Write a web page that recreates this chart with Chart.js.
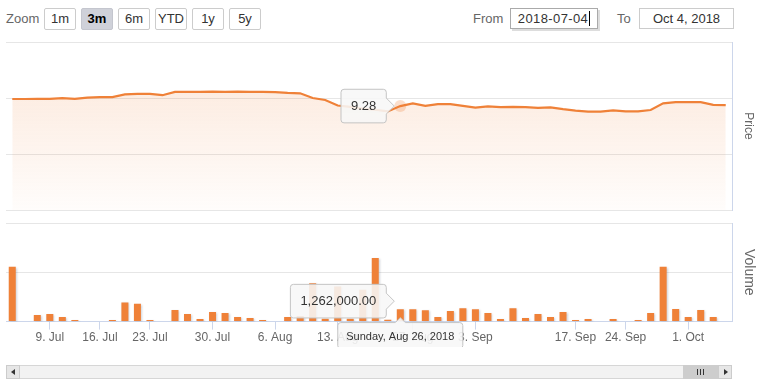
<!DOCTYPE html>
<html>
<head>
<meta charset="utf-8">
<script src="https://cdn.jsdelivr.net/npm/chart.js@4.4.1/dist/chart.umd.min.js"></script>
<style>
  body { margin: 0; background: #fff; font-family: 'Liberation Sans', Arial, sans-serif; }
  #wrap { position: relative; width: 762px; height: 384px; overflow: hidden; }
  .lbl { position: absolute; top: 11px; font-size: 13px; color: #666; }
  .btn { position: absolute; top: 8px; width: 30px; height: 20px; border: 1px solid #ccc; border-radius: 2px;
         background: #fff; color: #333; font-size: 13px; text-align: center; line-height: 20px; }
  .btn.sel { background: #cfd1d9; font-weight: bold; color: #000; border-color: #c4c6ce; }
  .inp { position: absolute; top: 8px; height: 19px; border: 1px solid #ccc; font-size: 13px; color: #333;
         line-height: 19px; text-align: center; background: #fff; }
  #from { left: 510px; width: 86px; border-color: #aaa; box-shadow: 2px 2px 0 #ddd; letter-spacing: 0.4px; }
  #to { left: 639px; width: 93px; }
  .cursor { display: inline-block; width: 1px; height: 15px; background: #000; vertical-align: -3px; margin-left: 1px; }
  #pc { position: absolute; left: 0; top: 0; width: 762px; height: 214px; }
  #vc { position: absolute; left: 0; top: 215px; width: 762px; height: 132px; }
  .sb { position: absolute; top: 365px; height: 14px; box-sizing: border-box; }
  #track { left: 6px; width: 726px; background: #f2f2f2; border: 1px solid #d6d6d6; }
  #thumb { left: 683px; width: 35px; background: #cdcdcd; }
  .sbtn { width: 14px; background: #e6e6e6; border: 1px solid #ccc; }
  .grip { position: absolute; top: 369px; width: 1px; height: 6px; background: #333; }
  .arr { position: absolute; top: 369px; width: 0; height: 0; border-top: 3px solid transparent; border-bottom: 3px solid transparent; }
</style>
</head>
<body>
<div id="wrap">
  <span class="lbl" style="left:6px">Zoom</span>
  <div class="btn" style="left:44px">1m</div>
  <div class="btn sel" style="left:81px">3m</div>
  <div class="btn" style="left:118px">6m</div>
  <div class="btn" style="left:155px">YTD</div>
  <div class="btn" style="left:192px">1y</div>
  <div class="btn" style="left:229px">5y</div>
  <span class="lbl" style="left:473px">From</span>
  <div class="inp" id="from">2018-07-04<span class="cursor"></span></div>
  <span class="lbl" style="left:617px">To</span>
  <div class="inp" id="to">Oct 4, 2018</div>

  <div id="pc"><canvas id="price"></canvas></div>
  <div id="vc"><canvas id="volume"></canvas></div>

  <div class="sb" id="track"></div>
  <div class="sb sbtn" style="left:6px"></div>
  <div class="arr" style="left:11px;border-right:4px solid #333"></div>
  <div class="sb" id="thumb"></div>
  <div class="grip" style="left:697px"></div>
  <div class="grip" style="left:700px"></div>
  <div class="grip" style="left:703px"></div>
  <div class="sb sbtn" style="left:718px"></div>
  <div class="arr" style="left:724px;border-left:4px solid #333"></div>
</div>
<script>
const dates = [
  '2018-07-04','2018-07-05','2018-07-06','2018-07-09','2018-07-10','2018-07-11','2018-07-12',
  '2018-07-16','2018-07-17','2018-07-18','2018-07-19','2018-07-23','2018-07-24','2018-07-25',
  '2018-07-26','2018-07-27','2018-07-30','2018-07-31','2018-08-01','2018-08-02','2018-08-03',
  '2018-08-06','2018-08-07','2018-08-08','2018-08-09','2018-08-10','2018-08-13','2018-08-14',
  '2018-08-15','2018-08-16','2018-08-17','2018-08-26','2018-08-27','2018-08-28','2018-08-29',
  '2018-08-30','2018-08-31','2018-09-03','2018-09-04','2018-09-05','2018-09-06','2018-09-07',
  '2018-09-11','2018-09-12','2018-09-13','2018-09-17','2018-09-18','2018-09-19','2018-09-20',
  '2018-09-24','2018-09-25','2018-09-26','2018-09-27','2018-09-28','2018-10-01','2018-10-02',
  '2018-10-03','2018-10-04'
];
const price = [
  9.91, 9.91, 9.92, 9.92, 9.99, 9.93, 10.04,
  10.08, 10.08, 10.32, 10.36, 10.36, 10.25, 10.54,
  10.54, 10.55, 10.57, 10.55, 10.57, 10.55, 10.55,
  10.53, 10.46, 10.42, 10.0, 9.82, 9.33, 9.2,
  9.05, 8.95, 8.8, 9.28, 9.52, 9.3, 9.46,
  9.46, 9.3, 9.15, 9.26, 9.18, 9.2, 9.18,
  9.12, 9.17, 9.0, 8.88, 8.79, 8.79, 8.9,
  8.81, 8.81, 8.93, 9.52, 9.64, 9.64, 9.63,
  9.38, 9.36
];
const volume = [
  5570000, 0, 670000, 780000, 470000, 160000, 50000,
  50000, 160000, 1940000, 1800000, 160000, 0, 1180000,
  780000, 270000, 980000, 880000, 470000, 370000, 160000,
  50000, 470000, 570000, 3880000, 300000, 3570000, 300000,
  3220000, 6460000, 200000, 1262000, 1260000, 1150000, 470000,
  1080000, 1360000, 1260000, 880000, 270000, 1360000, 370000,
  780000, 470000, 980000, 160000, 270000, 0, 270000,
  0, 160000, 880000, 5570000, 1290000, 470000, 1180000,
  470000, 0
];
const tickDates = ['2018-07-09','2018-07-16','2018-07-23','2018-07-30','2018-08-06','2018-08-13',
  '2018-08-27','2018-09-03','2018-09-17','2018-09-24','2018-10-01'];
const tickLabels = ['9. Jul','16. Jul','23. Jul','30. Jul','6. Aug','13. Aug',
  '27. Aug','3. Sep','17. Sep','24. Sep','1. Oct'];
const hoverDate = '2018-08-26';

const orange = '#ef8138';
const family = "'Liberation Sans', Arial, sans-serif";
Chart.defaults.font.family = family;

const dayNames = ['Sunday','Monday','Tuesday','Wednesday','Thursday','Friday','Saturday'];
const monNames = ['Jan','Feb','Mar','Apr','May','Jun','Jul','Aug','Sep','Oct','Nov','Dec'];
function longDate(s) {
  const p = s.split('-').map(Number);
  const d = new Date(Date.UTC(p[0], p[1] - 1, p[2]));
  return dayNames[d.getUTCDay()] + ', ' + monNames[p[1] - 1] + ' ' + p[2] + ', ' + p[0];
}

function tipOpts(fmt, pos) {
  return {
    enabled: true, position: pos, xAlign: 'right', yAlign: 'center',
    backgroundColor: 'rgba(247,247,247,0.88)', borderColor: '#c4c4c4', borderWidth: 1,
    cornerRadius: 3, caretSize: 8, caretPadding: 6, padding: {x: 10, y: 9},
    displayColors: false, bodyColor: '#333', bodyFont: {size: 13},
    callbacks: { title: () => null, label: (c) => fmt(c.raw) }
  };
}

Chart.Tooltip.positioners.raised = function(items) {
  const p = Chart.Tooltip.positioners.average.call(this, items);
  return p ? {x: p.x, y: p.y - 8} : false;
};

const fillGrad = (ctx) => {
  const a = ctx.chart.chartArea;
  if (!a) return 'rgba(239,129,56,0.1)';
  const g = ctx.chart.ctx.createLinearGradient(0, a.top, 0, a.bottom);
  g.addColorStop(0, 'rgba(239,129,56,0.2)');
  g.addColorStop(1, 'rgba(239,129,56,0.02)');
  return g;
};

const barShadow = {
  id: 'barShadow',
  beforeDatasetsDraw(chart) {
    const c = chart.ctx;
    c.save();
    c.shadowColor = 'rgba(60,70,100,0.25)';
    c.shadowBlur = 2;
    c.shadowOffsetX = 1;
    c.shadowOffsetY = 1;
  },
  afterDatasetsDraw(chart) { chart.ctx.restore(); }
};

const dateLabel = {
  id: 'dateLabel',
  afterDraw(chart) {
    const i = dates.indexOf(hoverDate);
    const x = chart.scales.x.getPixelForValue(i);
    const top = chart.chartArea.bottom + 1;
    const ctx = chart.ctx;
    const text = longDate(hoverDate);
    ctx.save();
    ctx.font = '11px ' + family;
    const w = ctx.measureText(text).width + 17, h = 26, l = x - w / 2, r = 3;
    ctx.beginPath();
    ctx.moveTo(l + r, top);
    ctx.lineTo(x - 5, top);
    ctx.lineTo(x, top - 5);
    ctx.lineTo(x + 5, top);
    ctx.lineTo(l + w - r, top);
    ctx.arcTo(l + w, top, l + w, top + r, r);
    ctx.lineTo(l + w, top + h - r);
    ctx.arcTo(l + w, top + h, l + w - r, top + h, r);
    ctx.lineTo(l + r, top + h);
    ctx.arcTo(l, top + h, l, top + h - r, r);
    ctx.lineTo(l, top + r);
    ctx.arcTo(l, top, l + r, top, r);
    ctx.closePath();
    ctx.fillStyle = 'rgba(247,247,247,0.9)';
    ctx.fill();
    ctx.strokeStyle = '#c4c4c4';
    ctx.lineWidth = 1;
    ctx.stroke();
    ctx.fillStyle = '#333';
    ctx.textAlign = 'center';
    ctx.textBaseline = 'middle';
    ctx.fillText(text, x, top + h / 2 + 1);
    ctx.restore();
  }
};

const priceChart = new Chart(document.getElementById('price'), {
  type: 'line',
  data: {
    labels: dates,
    datasets: [{
      data: price, borderColor: orange, borderWidth: 2.2, tension: 0,
      pointRadius: 0, pointHoverRadius: 6, pointHoverBorderWidth: 0,
      pointHoverBackgroundColor: 'rgba(239,129,56,0.25)',
      fill: 'origin', backgroundColor: fillGrad
    }]
  },
  options: {
    responsive: true, maintainAspectRatio: false, animation: false, events: [],
    layout: { padding: { top: 42, left: 6, right: 0, bottom: 4 } },
    scales: {
      x: { display: false, offset: true },
      y: {
        position: 'right', min: 0, max: 15,
        ticks: { display: false, stepSize: 5 },
        grid: { color: '#e6e6e6', drawTicks: false },
        border: { display: true, color: '#ccd6eb' },
        title: { display: true, text: 'Price', color: '#666', font: { size: 12 }, padding: { top: 6.8, bottom: 8.8 } }
      }
    },
    plugins: { legend: { display: false }, tooltip: tipOpts(v => v.toFixed(2), 'average') }
  }
});

const volumeChart = new Chart(document.getElementById('volume'), {
  type: 'bar',
  data: {
    labels: dates,
    datasets: [{
      data: volume, backgroundColor: orange, hoverBackgroundColor: orange,
      barPercentage: 0.56, categoryPercentage: 1
    }]
  },
  options: {
    responsive: true, maintainAspectRatio: false, animation: false, events: [],
    layout: { padding: { top: 8, left: 6, right: 0, bottom: 1 } },
    scales: {
      x: {
        offset: true,
        grid: { display: true, drawOnChartArea: false, drawTicks: true, tickLength: 8, color: '#ccd6eb', offset: false },
        border: { display: true, color: '#ccd6eb' },
        ticks: {
          autoSkip: false, maxRotation: 0, minRotation: 0, padding: 1, color: '#666', font: { size: 12 },
          callback: function(v, i) {
            const k = tickDates.indexOf(dates[i]);
            return k < 0 ? null : tickLabels[k];
          }
        }
      },
      y: {
        position: 'right', min: 0, max: 10000000,
        ticks: { display: false, stepSize: 5000000 },
        grid: { color: '#e6e6e6', drawTicks: false },
        border: { display: true, color: '#ccd6eb' },
        title: { display: true, text: 'Volume', color: '#666', font: { size: 14 }, padding: { top: 4.6, bottom: 8.6 } }
      }
    },
    plugins: {
      legend: { display: false },
      tooltip: tipOpts(v => v.toLocaleString('en-US', { minimumFractionDigits: 2, maximumFractionDigits: 2 }), 'raised')
    }
  },
  plugins: [barShadow, dateLabel]
});

function activate(chart) {
  const i = dates.indexOf(hoverDate);
  const el = chart.getDatasetMeta(0).data[i];
  const act = [{ datasetIndex: 0, index: i }];
  chart.setActiveElements(act);
  chart.tooltip.setActiveElements(act, { x: el.x, y: el.y });
  chart.update();
}
activate(priceChart);
activate(volumeChart);
</script>
</body>
</html>
